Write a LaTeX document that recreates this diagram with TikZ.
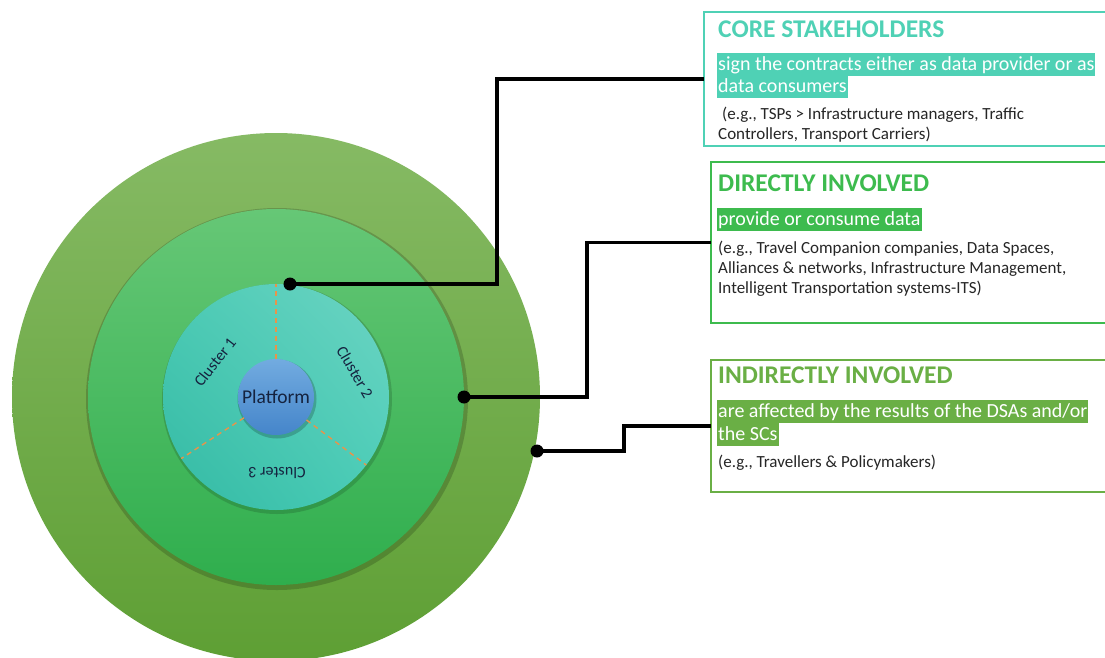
\documentclass[tikz,border=0pt]{standalone}
\usepackage{fontspec}
\setmainfont{Carlito}
\usetikzlibrary{calc,shadings}
\definecolor{coreC}{HTML}{4FD1B5}
\definecolor{dirC}{HTML}{3DBB4E}
\definecolor{indC}{HTML}{6AAF45}
\definecolor{exC}{HTML}{262626}
\definecolor{navyC}{HTML}{15233F}
\definecolor{dashC}{HTML}{E8944A}
\definecolor{outTop}{HTML}{86BA64}
\definecolor{outBot}{HTML}{5E9F34}
\definecolor{midTop}{HTML}{66C776}
\definecolor{midBot}{HTML}{2FAE4D}
\definecolor{tealUL}{HTML}{4CCBB5}
\definecolor{tealUR}{HTML}{6DD4C3}
\definecolor{tealLL}{HTML}{33B9A3}
\definecolor{tealLR}{HTML}{4ACDB7}
\definecolor{platTop}{HTML}{72ABE0}
\definecolor{platBot}{HTML}{4585CA}
\newcommand\mytitlefont{\fontsize{25.5}{30}\selectfont\bfseries}
\newcommand\myhlfont{\fontsize{20}{22}\selectfont}
\newcommand\myexfont{\fontsize{17}{20}\selectfont}
\tikzset{
  boxframe/.style={draw=#1, line width=2.6pt, rectangle, inner sep=0pt, outer sep=0pt, anchor=north west},
  ttl/.style={anchor=base west, inner sep=0pt, font=\mytitlefont, text=#1},
  hl/.style={anchor=base west, fill=#1, text=white, inner xsep=1pt, inner ysep=0pt, text height=17pt, text depth=5.5pt, font=\myhlfont},
  ex/.style={anchor=base west, inner sep=0pt, font=\myexfont, text=exC},
  dot/.style={circle, fill=black, inner sep=0pt, minimum size=13pt},
  conn/.style={draw=black, line width=3.2pt},
  dashline/.style={draw=dashC, line width=1.4pt, dash pattern=on 5pt off 4pt},
  clab/.style={font=\fontsize{16}{18}\selectfont, text=navyC, inner sep=0pt}
}
\begin{document}
\begin{tikzpicture}[x=1pt,y=-1pt]
\useasboundingbox (0,0) rectangle (1105,657);
\clip (0,0) rectangle (1105,657);
\fill[white] (0,0) rectangle (1105,657);
\coordinate (C) at (276,397);
% outer ring
\shade[top color=outTop, bottom color=outBot] (C) circle[radius=264pt];
% middle ring
\fill[black, opacity=0.18] ($(C)+(1pt,-2pt)$) circle[radius=191pt];
\shade[top color=midTop, bottom color=midBot] (C) circle[radius=188pt];
% teal
\fill[black, opacity=0.15] ($(C)+(1pt,-2pt)$) circle[radius=115pt];
\shade[upper left=tealUL, upper right=tealUR, lower left=tealLL, lower right=tealLR] (C) circle[radius=113pt];
% platform shadow
\fill[black, opacity=0.2] ($(C)+(1pt,-2pt)$) circle[radius=39.5pt];
\node[circle, minimum size=76pt, inner sep=0pt, top color=platTop, bottom color=platBot, text=navyC, font=\fontsize{19.5}{22}\selectfont] (plat) at (C) {Platform};
% dashed separators
\draw[dashline] (plat.90) -- ($(C)+(90:113pt)$);
\draw[dashline] (plat.213) -- ($(C)+(213:113pt)$);
\draw[dashline] (plat.-37) -- ($(C)+(-37:113pt)$);
% cluster labels
\node[clab, rotate=52] (c1) at (215,362) {Cluster 1};
\node[clab, rotate=-60] (c2) at (355,372) {Cluster 2};
\node[clab, rotate=180] (c3) at (277,473) {Cluster 3};
% boxes
\node[boxframe=coreC, minimum width=410pt, minimum height=134pt] (box1) at (704,12) {};
\node[boxframe=dirC, minimum width=405pt, minimum height=161pt] (box2) at (711,162) {};
\node[boxframe=indC, minimum width=405pt, minimum height=132pt] (box3) at (711,360) {};
% box 1 text
\node[ttl=coreC] (t1) at (718,37) {CORE STAKEHOLDERS};
\node[hl=coreC] (h1a) at (717,70) {sign the contracts either as data provider or as};
\node[hl=coreC] (h1b) at (717,92) {data consumers};
\node[ex] (e1a) at (722,119) {(e.g., TSPs > Infrastructure managers, Traffic};
\node[ex] (e1b) at (718,139) {Controllers, Transport Carriers)};
% box 2 text
\node[ttl=dirC] (t2) at (718,191) {DIRECTLY INVOLVED};
\node[hl=dirC] (h2a) at (717,225) {provide or consume data};
\node[ex] (e2a) at (718,253) {(e.g., Travel Companion companies, Data Spaces,};
\node[ex] (e2b) at (718,273) {Alliances \& networks, Infrastructure Management,};
\node[ex] (e2c) at (718,293) {Intelligent Transportation systems-ITS)};
% box 3 text
\node[ttl=indC] (t3) at (718,383) {INDIRECTLY INVOLVED};
\node[hl=indC] (h3a) at (717,417) {are affected by the results of the DSAs and/or};
\node[hl=indC] (h3b) at (717,440) {the SCs};
\node[ex] (e3a) at (718,467) {(e.g., Travellers \& Policymakers)};
% dots and connectors
\node[dot] (d1) at (290,284) {};
\node[dot] (d2) at (464,397) {};
\node[dot] (d3) at (537,451) {};
\draw[conn] (d1.center) -- ++(207,0) |- (box1.west);
\draw[conn] (d2.center) -- ++(123,0) |- (box2.west);
\draw[conn] (d3.center) -- ++(87,0) |- (box3.west);
\end{tikzpicture}
\end{document}
